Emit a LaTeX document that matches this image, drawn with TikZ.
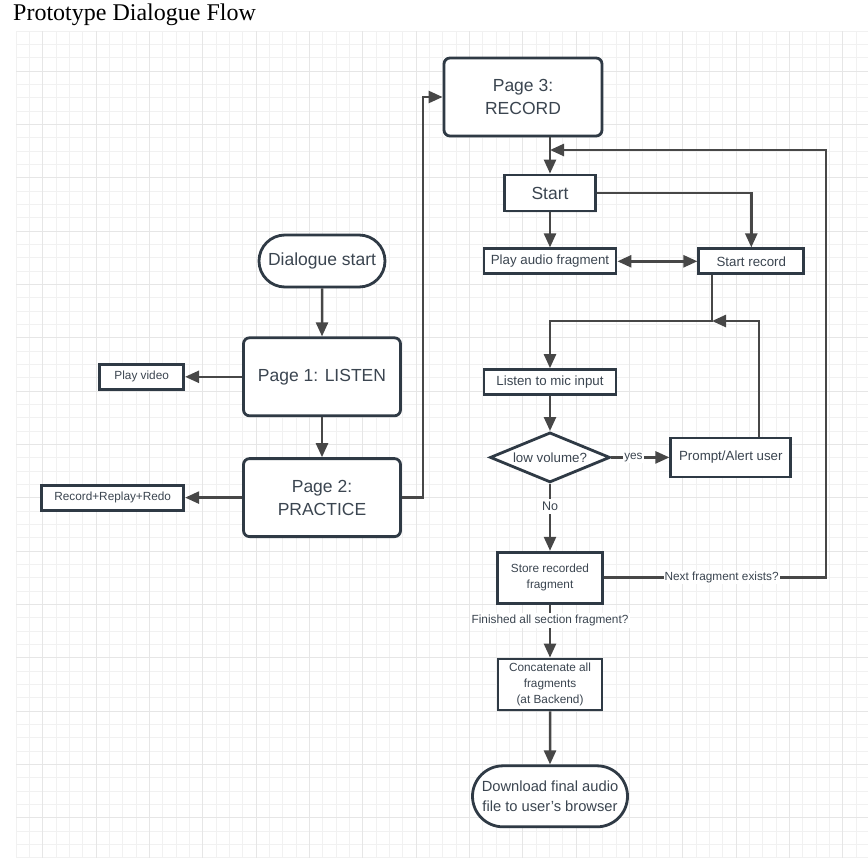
\documentclass[tikz,border=0pt]{standalone}
\usepackage{fontspec}
\setmainfont{Liberation Sans}
\newfontfamily\titlefont{Liberation Serif}
\usepackage{tikz}
\usetikzlibrary{positioning,shapes.geometric,shapes.misc,arrows.meta,shadows}
\definecolor{edgec}{HTML}{2F3A45}
\definecolor{textc}{HTML}{3B4550}
\definecolor{arrowc}{HTML}{474747}
\definecolor{gridc}{HTML}{F1F1F1}
\definecolor{gridm}{HTML}{E6E6E6}

\begin{document}
\begin{tikzpicture}[
  x=1bp, y=-1bp,
  box/.style={rectangle, draw=edgec, line width=2.8bp, fill=white, text=textc, inner sep=2bp, align=center, drop shadow={opacity=0.12, shadow xshift=1bp, shadow yshift=-1.5bp}},
  page/.style={box, rounded corners=6bp, minimum width=157bp, minimum height=78bp, font=\fontsize{17.5bp}{23bp}\selectfont},
  term/.style={box, rounded rectangle, font=\fontsize{17.5bp}{20bp}\selectfont},
  task/.style={box, minimum height=25bp, font=\fontsize{13.3bp}{16bp}\selectfont},
  side/.style={box, minimum height=25bp, font=\fontsize{11.8bp}{14bp}\selectfont},
  store/.style={box, minimum width=105bp, minimum height=51bp, font=\fontsize{11.8bp}{15.7bp}\selectfont},
  decision/.style={box, diamond, aspect=2.3, inner sep=0pt, minimum width=120bp, minimum height=50bp, font=\fontsize{13.3bp}{16bp}\selectfont},
  arrow/.style={-{Triangle[length=14bp,width=12bp]}, draw=arrowc, line width=2.5bp},
  bidiarrow/.style={{Triangle[length=14bp,width=12bp]}-{Triangle[length=14bp,width=12bp]}, draw=arrowc, line width=2.5bp},
  lbl/.style={fill=white, text=textc, inner sep=1bp, font=\fontsize{11.8bp}{14bp}\selectfont},
  gridline/.style={draw=gridc, line width=0.6bp}
]
  \useasboundingbox (0,0) rectangle (868,858);

  % Background grid
  \foreach \k in {0,...,63} \draw[gridline] ({16+13.333*\k},31) -- ({16+13.333*\k},858);
  \foreach \k in {0,...,62} \draw[gridline] (16,{31+13.333*\k}) -- (868,{31+13.333*\k});
  \foreach \k in {0,...,15} \draw[gridline, draw=gridm] ({42.67+53.333*\k},31) -- ({42.67+53.333*\k},858);
  \foreach \k in {0,...,14} \draw[gridline, draw=gridm] (16,{71+53.333*\k}) -- (868,{71+53.333*\k});

  % Title
  \node[anchor=base west, inner sep=0pt, font=\titlefont\fontsize{24bp}{28bp}\selectfont] (title) at (13,20) {Prototype Dialogue Flow};

  % Left column
  \node[term, minimum width=130bp, minimum height=52bp] (dstart) at (322,261) {Dialogue start};
  \node[page, below=48bp of dstart] (page1) {Page 1: LISTEN};
  \node[page, below=40bp of page1] (page2) {Page 2:\\PRACTICE};
  \node[side, minimum width=84bp, left=57bp of page1] (video) {Play video};
  \node[side, minimum width=142bp, left=57bp of page2] (rrr) {Record+Replay+Redo};

  % Right column
  \node[page, minimum width=158bp] (page3) at (523,97) {Page 3:\\RECORD};
  \node[box, minimum width=91bp, minimum height=36bp, font=\fontsize{17.5bp}{20bp}\selectfont] (start) at (550,193) {Start};
  \node[task, minimum width=132bp, below=35bp of start] (play) {Play audio fragment};
  \node[task, minimum width=105bp, right=80bp of play] (startrec) {Start record};
  \node[task, minimum width=132bp, below=93bp of play] (listen) {Listen to mic input};
  \node[decision, below=35bp of listen] (lowvol) {low volume?};
  \node[task, minimum width=120bp, minimum height=39bp, right=58bp of lowvol] (prompt) {Prompt/Alert user};
  \node[store, below=67bp of lowvol] (storefrag) {Store recorded\\fragment};
  \node[store, minimum width=104bp, below=53bp of storefrag] (concat) {Concatenate all\\fragments\\(at Backend)};
  \node[term, minimum width=159bp, minimum height=61bp, below=53bp of concat, font=\fontsize{14.7bp}{20bp}\selectfont] (download) {Download final audio\\file to user's browser};

  % Loop points
  \coordinate (join) at (712,321);
  \coordinate (pup) at (759,321);
  \coordinate (back) at (550,150);
  \coordinate (backr) at (826,150);

  % Connections
  \draw[arrow] (dstart) -- (page1);
  \draw[arrow] (page1) -- (page2);
  \draw[arrow] (page1.west) -- (video.east);
  \draw[arrow] (page2.west) -- (rrr.east);
  \draw[arrow] (page2.east) -- ++(21,0) |- (page3.west);
  \draw[arrow] (start.north |- page3.south) -- (start.north);
  \draw[arrow] (start) -- (play);
  \draw[arrow] (start.east) -| (startrec.north);
  \draw[bidiarrow] (play) -- (startrec);
  \draw[arrow] (startrec.south -| join) -- (join) -| (listen.north);
  \draw[arrow] (listen) -- (lowvol);
  \draw[arrow] (lowvol) -- node[lbl, pos=0.38] {yes} (prompt);
  \draw[arrow] (prompt.north -| pup) -- (pup) -- (join);
  \draw[arrow] (lowvol) -- node[lbl, pos=0.34, font=\fontsize{12.5bp}{14bp}\selectfont, inner sep=3bp] {No} (storefrag);
  \draw[arrow] (storefrag.east) -- node[lbl, pos=0.53] {Next fragment exists?} (storefrag.east -| backr) -- (backr) -- (back);
  \draw[arrow] (storefrag) -- node[lbl, pos=0.3, inner sep=2bp] {Finished all section fragment?} (concat);
  \draw[arrow] (concat) -- (download);
\end{tikzpicture}
\end{document}
